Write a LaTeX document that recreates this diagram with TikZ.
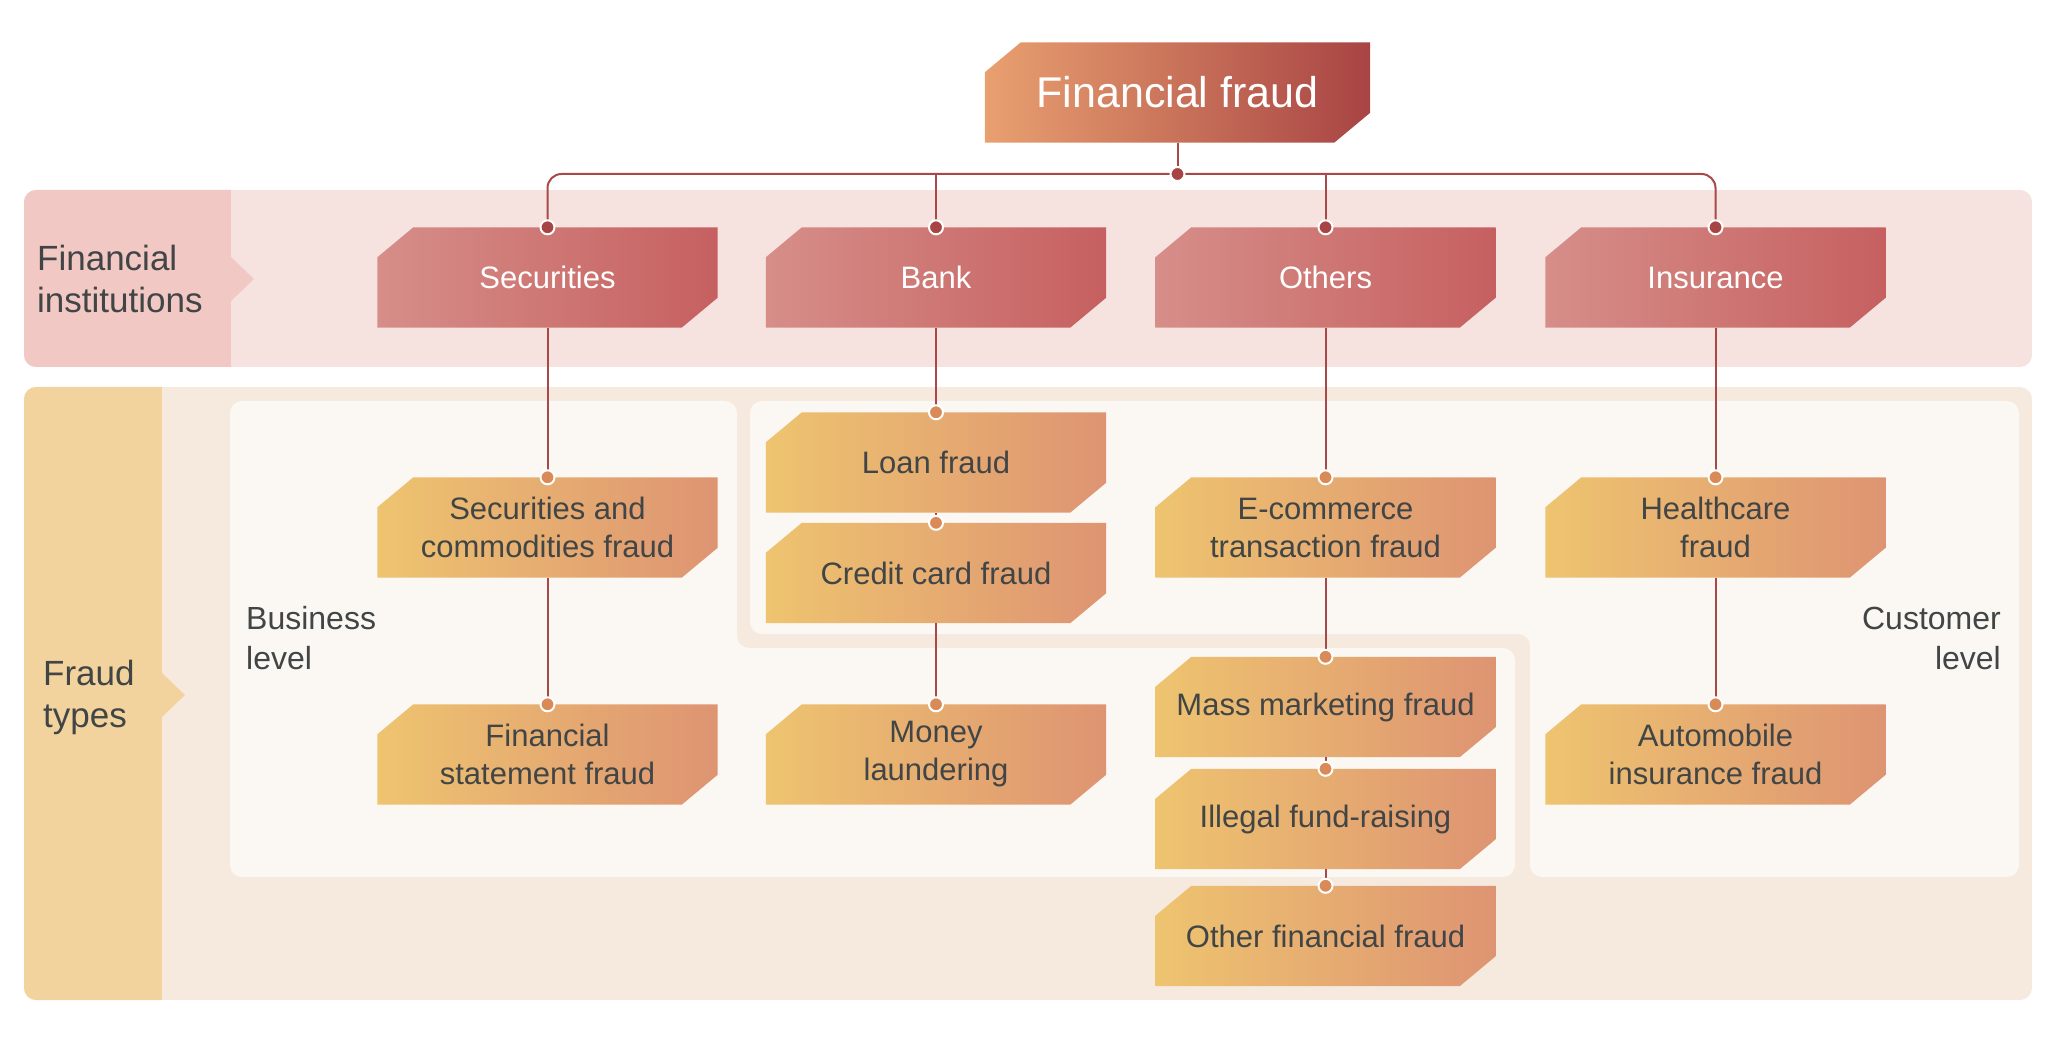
\documentclass[tikz,border=0pt]{standalone}
\usepackage{fontspec}
\usepackage{pdfrender}
\setmainfont{Liberation Sans}
\pgfdeclarelayer{bg}
\pgfdeclarelayer{panel}
\pgfdeclarelayer{boxes}
\pgfsetlayers{bg,panel,boxes,main}
\definecolor{txt}{HTML}{414545}
\definecolor{bandA}{HTML}{F6E3DF}
\definecolor{labA}{HTML}{F1C8C3}
\definecolor{bandB}{HTML}{F6EADF}
\definecolor{labB}{HTML}{F2D39D}
\definecolor{panelc}{HTML}{FBF7F3}
\definecolor{ffL}{HTML}{E9A070}
\definecolor{ffR}{HTML}{A84444}
\definecolor{lA}{HTML}{D68E89}
\definecolor{lB}{HTML}{C66060}
\definecolor{mA}{HTML}{EEC470}
\definecolor{mB}{HTML}{DE9472}
\definecolor{linec}{HTML}{A84848}
\definecolor{dotr}{HTML}{A84444}
\definecolor{doto}{HTML}{D98A57}
\newcommand\chbox[3]{\shade[left color=#2,right color=#3]
  ([yshift=-30pt]#1.north west) -- ([xshift=36pt]#1.north west) -- (#1.north east)
  -- ([yshift=30pt]#1.south east) -- ([xshift=-36pt]#1.south east) -- (#1.south west) -- cycle;}
\newcommand\medw[1]{\pdfrender{TextRenderingMode=FillStroke,LineWidth=#1}}
\begin{document}
\begin{tikzpicture}[x=1pt,y=-1pt,
  box/.style={minimum width=340pt,minimum height=100pt,inner sep=0pt,align=center,text=txt,
    font=\fontsize{31}{38}\selectfont\medw{0.7pt}},
  wbox/.style={box,text=white},
  conn/.style={draw=linec,line width=2pt},
  bandlbl/.style={anchor=west,align=left,text=txt,inner sep=0pt,font=\fontsize{35}{42}\selectfont\medw{0.7pt}},
  lvllbl/.style={text=txt,inner sep=0pt,font=\fontsize{32}{40}\selectfont\medw{0.7pt}},
  rdot/.style={fill=dotr,draw=white,line width=2pt},
  odot/.style={fill=doto,draw=white,line width=2pt}
  ]
\useasboundingbox (0,0) rectangle (2056,1056);

% bands
\begin{pgfonlayer}{bg}
\begin{scope}
\clip[rounded corners=12pt] (24,190) rectangle (2032,367);
\fill[bandA] (24,190) rectangle (2032,367);
\fill[labA] (0,180) rectangle (231,380);
\end{scope}
\fill[labA] (230,256) -- (254,279) -- (230,302) -- cycle;
\begin{scope}
\clip[rounded corners=12pt] (24,387) rectangle (2032,1000);
\fill[bandB] (24,387) rectangle (2032,1000);
\fill[labB] (0,380) rectangle (162,1010);
\end{scope}
\fill[labB] (161,672) -- (185,695) -- (161,718) -- cycle;
\end{pgfonlayer}

\begin{pgfonlayer}{panel}
\fill[panelc,rounded corners=12pt] (230,401) -- (737,401) -- (737,648) -- (1515,648) -- (1515,877) -- (230,877) -- cycle;
\fill[panelc,rounded corners=12pt] (750,401) -- (2019,401) -- (2019,877) -- (1530,877) -- (1530,634) -- (750,634) -- cycle;
\end{pgfonlayer}

% labels
\node[bandlbl] (fi) at (37,279) {Financial\\institutions};
\node[bandlbl] (ft) at (43,697) {Fraud\\types};
\node[lvllbl,anchor=west,align=left] (biz) at (246,638) {Business\\level};
\node[lvllbl,anchor=east,align=right] (cust) at (2001,638) {Customer\\level};

% nodes
\node[wbox,minimum width=385pt,minimum height=100pt,font=\fontsize{43}{50}\selectfont\medw{0.9pt}] (ff) at (1177.5,92.5) {Financial fraud};
\node[wbox] (sec) at (547.5,277.5) {Securities};
\node[wbox] (bank) at (936,277.5) {Bank};
\node[wbox] (oth) at (1325.5,277.5) {Others};
\node[wbox] (ins) at (1715.5,277.5) {Insurance};

\node[box] (secc) at (547.5,527.5) {Securities and\\commodities fraud};
\node[box] (fin) at (547.5,754.5) {Financial\\statement fraud};
\node[box] (loan) at (936,462.5) {Loan fraud};
\node[box] (cred) at (936,573) {Credit card fraud};
\node[box] (mon) at (936,754.5) {Money\\laundering};
\node[box] (ecom) at (1325.5,527.5) {E-commerce\\transaction fraud};
\node[box] (mass) at (1325.5,707) {Mass marketing fraud};
\node[box] (ill) at (1325.5,819) {Illegal fund-raising};
\node[box] (othf) at (1325.5,936) {Other financial fraud};
\node[box] (hc) at (1715.5,527.5) {Healthcare\\fraud};
\node[box] (autom) at (1715.5,754.5) {Automobile\\insurance fraud};

\begin{pgfonlayer}{boxes}
\chbox{ff}{ffL}{ffR}
\foreach \n in {sec,bank,oth,ins} {\chbox{\n}{lA}{lB}}
\foreach \n in {secc,fin,loan,cred,mon,ecom,mass,ill,othf,hc,autom} {\chbox{\n}{mA}{mB}}
\end{pgfonlayer}

% connectors
\coordinate (hub) at (1177.5,174);
\draw[conn] (ff.south) -- (hub);
\draw[conn,rounded corners=14pt] (sec.north) |- (hub) -| (ins.north);
\draw[conn] (bank.north) -- (bank.north |- hub);
\draw[conn] (oth.north) -- (oth.north |- hub);
\draw[conn] (sec.south) -- (secc.north);
\draw[conn] (secc.south) -- (fin.north);
\draw[conn] (bank.south) -- (loan.north);
\draw[conn] (loan.south) -- (cred.north);
\draw[conn] (cred.south) -- (mon.north);
\draw[conn] (oth.south) -- (ecom.north);
\draw[conn] (ecom.south) -- (mass.north);
\draw[conn] (mass.south) -- (ill.north);
\draw[conn] (ill.south) -- (othf.north);
\draw[conn] (ins.south) -- (hc.north);
\draw[conn] (hc.south) -- (autom.north);

% dots
\path[rdot] (hub) circle (7pt);
\foreach \n in {sec,bank,oth,ins} {\path[rdot] (\n.north) circle (7pt);}
\foreach \n in {secc,fin,loan,cred,mon,ecom,mass,ill,othf,hc,autom} {\path[odot] (\n.north) circle (7pt);}
\end{tikzpicture}
\end{document}
